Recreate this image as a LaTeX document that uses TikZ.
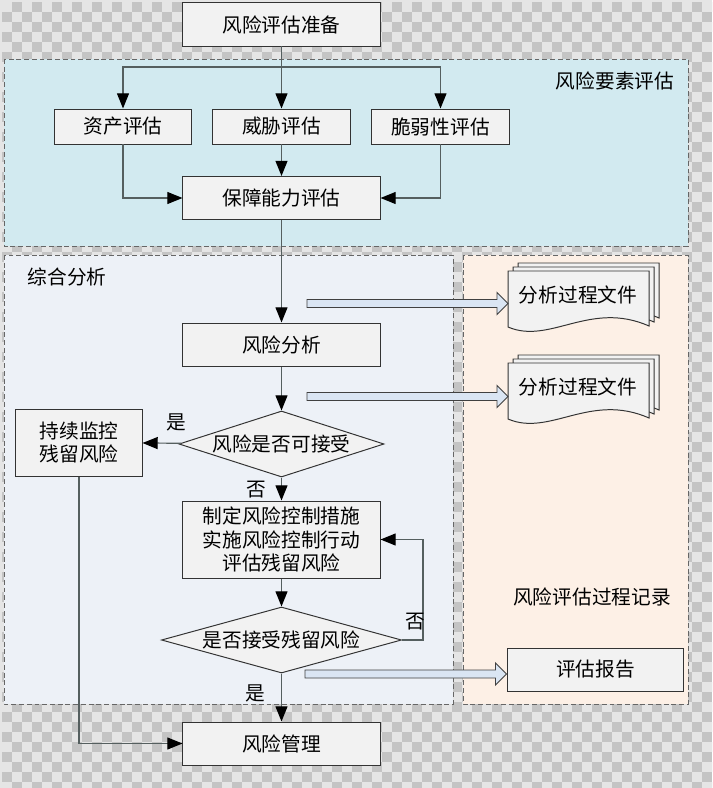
\documentclass[tikz,border=0pt]{standalone}
\usepackage{fontspec}
\setmainfont{Noto Sans CJK SC}
\usetikzlibrary{arrows.meta,shapes.geometric,calc}
\definecolor{LineGray}{RGB}{85,95,95}
\definecolor{BoxFill}{RGB}{242,242,242}
\definecolor{ZoneBlue}{RGB}{210,234,240}
\definecolor{ZoneGray}{RGB}{237,241,247}
\definecolor{ZoneSand}{RGB}{253,240,230}
\definecolor{ArrowFill}{RGB}{218,229,243}
\definecolor{CheckLight}{RGB}{229,229,229}
\definecolor{CheckDark}{RGB}{196,196,196}

\tikzset{
  box/.style={draw=black!80, fill=BoxFill, line width=0.7pt, minimum width=4.925cm,
    minimum height=1.075cm, inner sep=2pt, align=center},
  smallbox/.style={box, minimum width=3.425cm, minimum height=0.875cm},
  dia/.style={draw=black!80, fill=BoxFill, line width=0.7pt, shape=diamond, inner sep=0pt},
  zone/.style={draw=black!60, line width=0.7pt, dash pattern=on 3.5pt off 2pt},
  flow/.style={draw=LineGray, line width=0.85pt, -{Triangle[length=3.8mm,width=3mm,color=black]}},
  hollow/.style={draw=black!75, fill=ArrowFill, line width=0.6pt},
  page/.style={draw=black!80, fill=BoxFill, line width=0.7pt},
}

% hollow block arrow from #1 (level of #2) to tip #2
\newcommand{\hollowarrow}[2]{%
  \draw[hollow] ($(#1 |- #2)+(0,-4)$) -- ($(#2)+(-11,-4)$) -- ($(#2)+(-11,-11)$) -- (#2)
    -- ($(#2)+(-11,11)$) -- ($(#2)+(-11,4)$) -- ($(#1 |- #2)+(0,4)$) -- cycle;}

\begin{document}
\begin{tikzpicture}[x=0.025cm, y=-0.025cm, font=\fontsize{14pt}{17pt}\selectfont]
  \useasboundingbox (0,0) rectangle (712,788);
  \clip (0,0) rectangle (712,788);

  % checkered background
  \fill[CheckLight] (0,0) rectangle (712,788);
  \foreach \i in {0,...,35}
    \foreach \j in {0,...,39} {
      \fill[CheckDark] ({12+20*\i},{2+20*\j}) rectangle +(10,10);
      \fill[CheckDark] ({2+20*\i},{12+20*\j}) rectangle +(10,10);
    }

  % zones
  \draw[zone, fill=ZoneBlue] (4,59) rectangle (688,246);
  \draw[zone, fill=ZoneGray] (4,255) rectangle (453,704);
  \draw[zone, fill=ZoneSand] (463,255) rectangle (688,704);
  \node (elemTitle) at (615,81) {风险要素评估};
  \node (anaTitle) at (67,277) {综合分析};
  \node (recTitle) at (592,597) {风险评估过程记录};

  % main flow
  \node[box] (prep) at (281.5,24.5) {风险评估准备};
  \node[smallbox] (asset) at (123,126.5) {资产评估};
  \node[smallbox] (threat) at (281.5,126.5) {威胁评估};
  \node[smallbox] (vuln) at (440.5,126.5) {脆弱性评估};
  \node[box] (safe) at (281.5,198) {保障能力评估};
  \node[box] (analysis) at (281.5,344.5) {风险分析};
  \node[dia, minimum width=5.125cm, minimum height=1.65cm,
    label={[name=acceptText]center:风险是否可接受}] (accept) at (281.5,444) {};
  \node[box, minimum width=3.15cm, minimum height=1.675cm] (monitor) at (79,442.5) {持续监控\\残留风险};
  \node[box, minimum height=1.925cm] (control) at (281.5,539.5) {制定风险控制措施\\实施风险控制行动\\评估残留风险};
  \node[dia, minimum width=6cm, minimum height=1.65cm,
    label={[name=residualText]center:是否接受残留风险}] (residual) at (281.5,640) {};
  \node[box] (manage) at (281.5,743.5) {风险管理};
  \node[box, minimum width=4.375cm] (report) at (595.5,669.5) {评估报告};

  % documents
  \foreach \dy/\nm in {271/docA, 363/docB} {
    \foreach \k in {2,1,0}
      \draw[page, shift={({508+5*\k},{\dy-4*\k})}] (0,0) -- (141,0) -- (141,55)
        .. controls (82,29) and (42,74) .. (0,56) -- cycle;
    \node (\nm) at (578,\dy+24) {分析过程文件};
  }

  % connectors
  \coordinate (split) at (281.5,67);
  \draw[flow] (prep) -- (threat);
  \draw[flow] (split) -| (asset);
  \draw[flow] (split) -| (vuln);
  \draw[flow] (asset) |- (safe);
  \draw[flow] (threat) -- (safe);
  \draw[flow] (vuln) |- (safe);
  \draw[flow] (safe) -- (analysis);
  \draw[flow] (analysis) -- (accept);
  \draw[flow] (accept) -- (monitor);
  \draw[flow] (accept) -- (control);
  \draw[flow] (control) -- (residual);
  \draw[flow] (residual.east) -- ++(21,0) |- (control.east);
  \draw[flow] (residual) -- (manage);
  \draw[flow] (monitor) |- (manage);
  \node (yesA) at (176,422) {是};
  \node (noA) at (256,490) {否};
  \node (noB) at (415,622) {否};
  \node (yesB) at (255,693) {是};

  % record arrows
  \coordinate (startA) at (307,303.5);
  \coordinate (tipA) at (508,303.5);
  \coordinate (startB) at (307,396.5);
  \coordinate (tipB) at (508,396.5);
  \coordinate (startC) at (305,674);
  \coordinate (tipC) at ($(report.west)+(-1,4.5)$);
  \hollowarrow{startA}{tipA}
  \hollowarrow{startB}{tipB}
  \hollowarrow{startC}{tipC}
\end{tikzpicture}
\end{document}
